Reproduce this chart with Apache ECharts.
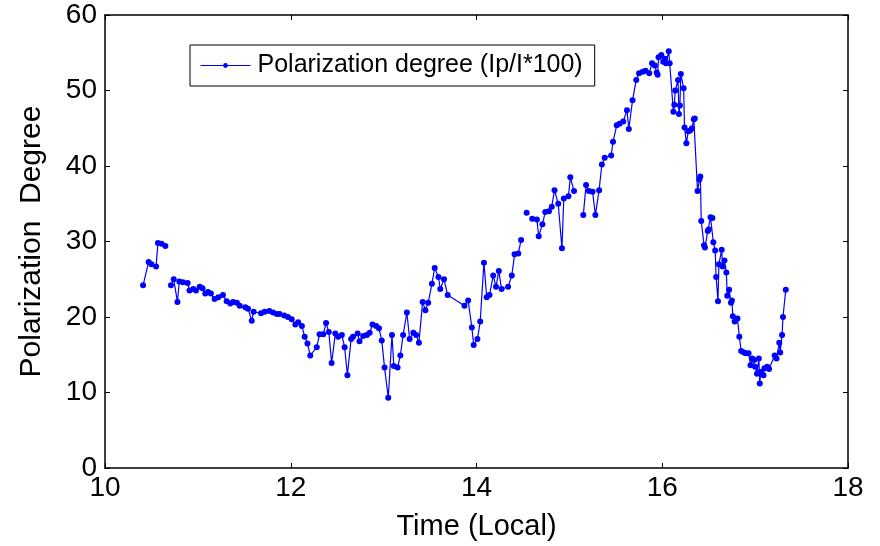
<!DOCTYPE html>
<html>
<head>
<meta charset="utf-8">
<script src="https://cdn.jsdelivr.net/npm/echarts@6/dist/echarts.min.js"></script>
<style>
html,body{margin:0;padding:0;background:#fff;}
#chart{width:880px;height:546px;}
</style>
</head>
<body>
<div id="chart"></div>
<script>
// Time (local hours); null values mark breaks in the line
const times = [
  10.41,10.47,10.50,10.55,10.57,10.61,10.65,10.68,
  10.71,10.74,10.78,10.80,10.84,10.89,10.91,10.95,10.98,11.02,11.05,11.08,11.11,11.14,11.18,11.22,11.27,11.31,11.35,11.38,11.42,11.45,11.51,11.54,11.58,11.60,
  11.68,11.72,11.77,11.81,11.85,11.88,11.93,11.97,12.01,12.05,12.08,12.12,12.15,12.18,12.21,12.28,12.31,12.35,12.38,12.41,12.44,12.48,12.51,12.55,12.58,12.61,12.65,12.67,12.72,12.74,12.78,12.82,12.85,12.88,12.92,12.95,12.98,
  13.01,13.05,13.09,13.11,13.15,13.18,13.21,13.25,13.28,13.32,13.35,13.38,13.42,13.45,13.48,13.52,13.55,13.59,13.61,13.65,13.69,13.87,13.91,13.95,13.97,
  14.01,14.04,14.08,14.11,14.14,14.18,14.21,14.24,14.27,14.34,14.38,14.41,14.45,14.48,14.51,14.54,14.57,
  14.60,14.65,14.67,14.71,14.74,14.78,14.81,14.84,14.88,14.92,14.94,14.99,15.01,15.05,15.10,
  15.15,15.18,15.21,15.25,15.28,15.32,15.35,15.38,15.45,15.47,15.51,15.54,15.58,15.62,15.64,15.68,15.72,15.75,15.79,15.82,15.86,15.89,15.92,15.94,15.95,15.96,15.99,16.01,16.03,16.04,16.07,16.08,
  16.12,16.13,16.14,16.17,16.18,16.19,16.20,16.23,16.24,16.26,16.28,16.30,16.32,16.34,16.35,16.38,16.40,16.41,16.42,16.45,16.46,16.49,16.50,16.52,16.54,16.55,16.57,16.58,16.60,16.61,16.64,16.65,16.67,16.69,16.70,16.72,16.74,16.75,16.76,16.78,16.81,16.83,16.85,16.88,16.90,16.93,16.95,16.97,16.99,
  17.00,17.02,17.04,17.05,17.06,17.09,17.10,17.13,17.15,17.21,17.23,17.26,17.27,17.29,17.30,17.33
];
const degree = [
  24.2,27.3,27.0,26.7,29.8,29.7,29.4,null,
  24.2,25.0,22.0,24.7,24.6,24.5,23.5,23.7,23.5,24.0,23.8,23.1,23.3,23.1,22.4,22.6,22.9,22.1,21.8,22.0,21.9,21.5,21.3,21.1,19.5,20.7,
  20.5,20.7,20.8,20.6,20.4,20.4,20.2,20.0,19.7,19.0,19.3,18.8,17.4,16.5,14.9,16.0,17.7,17.7,19.2,18.0,13.9,17.8,17.4,17.6,16.0,12.3,17.1,17.4,17.8,16.8,17.5,17.6,17.9,19.0,18.8,18.5,16.9,
  13.3,9.3,17.6,13.5,13.3,14.9,17.6,20.6,17.1,17.9,17.6,16.6,22.0,20.9,21.9,24.4,26.5,25.3,23.7,25.0,22.9,21.5,22.2,18.6,16.3,
  17.1,19.4,27.2,22.6,22.9,25.5,24.0,26.1,23.7,24.0,25.5,28.3,28.4,30.2,null,33.8,null,
  33.0,32.9,30.7,32.3,33.9,34.0,34.6,36.8,35.0,29.1,35.7,36.0,38.5,36.7,null,
  33.5,37.5,36.7,36.6,33.5,36.8,40.2,41.1,41.4,43.2,45.4,45.6,45.9,47.4,44.9,48.7,51.4,52.3,52.5,52.6,52.3,53.6,53.3,52.4,52.1,54.4,54.7,53.8,54.2,53.6,55.2,53.6,
  47.2,48.1,50.0,51.4,46.9,48.0,52.2,50.3,45.1,43.0,44.6,44.7,45.0,46.2,46.3,36.7,38.2,38.6,32.7,29.5,29.2,31.4,31.6,33.2,33.1,29.9,28.8,25.3,22.1,27.0,28.9,26.7,27.5,25.9,22.8,23.6,21.9,22.2,20.1,19.4,19.8,17.4,15.5,15.3,15.2,15.2,13.6,14.5,14.3,
  13.4,12.5,14.5,11.2,12.7,12.3,13.2,13.4,13.1,14.9,14.5,16.6,15.3,17.6,20.0,23.6
];
const xTicks = [10, 12, 14, 16, 18];
const yTicks = [0, 10, 20, 30, 40, 50, 60];
const seriesName = 'Polarization degree (Ip/I*100)';
const xTitle = 'Time (Local)';
const yTitle = 'Polarization  Degree';

const seriesData = times.map((t, i) => degree[i] === null ? [t, '-'] : [t, degree[i]]);

const font = 'Liberation Sans, Arial, sans-serif';
const chart = echarts.init(document.getElementById('chart'), null, {renderer: 'canvas'});
const baseX = {
  type: 'value', min: xTicks[0], max: xTicks[xTicks.length - 1], interval: 2,
  splitLine: {show: false},
  axisLine: {show: true, onZero: false, lineStyle: {color: '#000', width: 1.5}},
  axisTick: {show: true, inside: true, length: 5, lineStyle: {color: '#000', width: 1}},
};
const baseY = {
  type: 'value', min: yTicks[0], max: yTicks[yTicks.length - 1], interval: 10,
  splitLine: {show: false},
  axisLine: {show: true, onZero: false, lineStyle: {color: '#000', width: 1.5}},
  axisTick: {show: true, inside: true, length: 5, lineStyle: {color: '#000', width: 1}},
};
chart.setOption({
  animation: false,
  backgroundColor: '#fff',
  grid: {left: 105, right: 32, top: 15, bottom: 76, containLabel: false},
  legend: {
    show: true, left: 190, top: 45, itemWidth: 50, itemHeight: 6, itemGap: 0,
    padding: [8, 12, 8, 10], borderColor: '#000', borderWidth: 1, backgroundColor: '#fff',
    textStyle: {fontFamily: font, fontSize: 25, color: '#000', padding: [0, 0, 0, 2]},
    itemStyle: {color: '#0000ff'},
    lineStyle: {color: '#0000ff', width: 1},
    data: [{name: seriesName}]
  },
  xAxis: [
    Object.assign({}, baseX, {
      position: 'bottom',
      name: xTitle, nameLocation: 'middle', nameGap: 44,
      nameTextStyle: {fontFamily: font, fontSize: 29, color: '#000'},
      axisLabel: {show: true, fontFamily: font, fontSize: 28, color: '#000', margin: 6,
        formatter: v => xTicks.includes(v) ? String(v) : ''}
    }),
    Object.assign({}, baseX, {position: 'top', axisLabel: {show: false}})
  ],
  yAxis: [
    Object.assign({}, baseY, {
      position: 'left',
      name: yTitle, nameLocation: 'middle', nameGap: 58, nameRotate: 90,
      nameTextStyle: {fontFamily: font, fontSize: 30, color: '#000'},
      axisLabel: {show: true, fontFamily: font, fontSize: 28, color: '#000', margin: 8,
        formatter: v => yTicks.includes(v) ? String(v) : ''}
    }),
    Object.assign({}, baseY, {position: 'right', axisLabel: {show: false}})
  ],
  series: [{
    name: seriesName, type: 'line', xAxisIndex: 0, yAxisIndex: 0,
    data: seriesData, connectNulls: false,
    symbol: 'circle', symbolSize: 6, showSymbol: true, showAllSymbol: true,
    lineStyle: {color: '#0000ff', width: 1.2},
    itemStyle: {color: '#0000ff'},
    emphasis: {disabled: true}
  }]
});
</script>
</body>
</html>
